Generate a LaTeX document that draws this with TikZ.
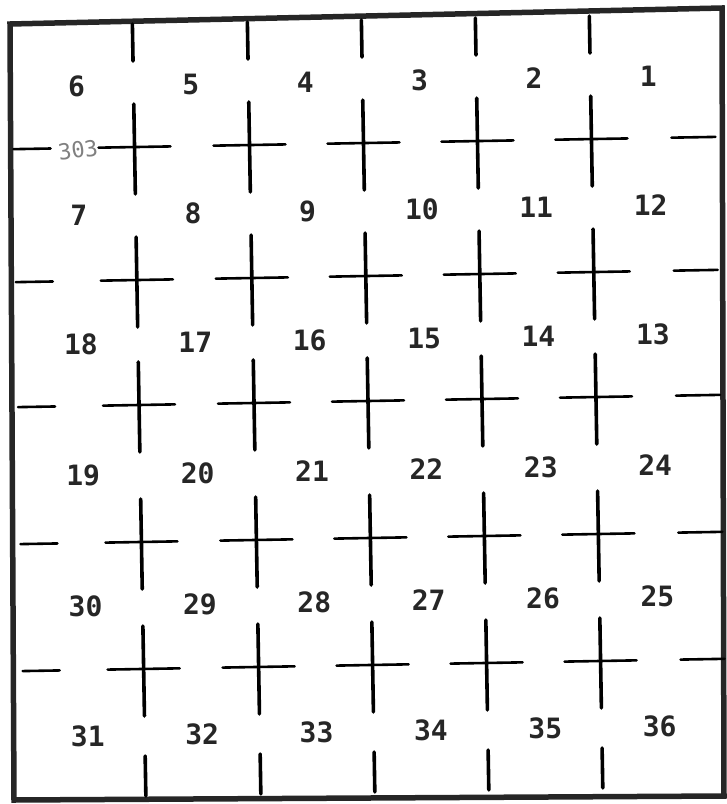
\documentclass[tikz,border=0pt]{standalone}
\usepackage{fontspec}
\newfontfamily\typefont{DejaVu Sans Mono}
\usepackage{tikz}

\tikzset{
    frame line/.style={line width=5.5pt, line join=miter},
    mark line/.style={line width=2.6pt, line cap=round},
    stem line/.style={line width=3.6pt, line cap=round},
    secnum/.style={font=\typefont\bfseries\fontsize{28}{28}\selectfont, text=black!85, inner sep=0pt},
}

\begin{document}
\begin{tikzpicture}[x=1pt, y=-1pt]
    \useasboundingbox (0,0) rectangle (727,804);

    % Outer frame
    \draw[frame line, black!85] (10,24) -- (722,8) -- (724,796) -- (14,800) -- cycle;

    \begin{scope}[shift={(368,401)}, rotate=1]
    % Crosses
    \foreach \u in {-229,-114,0,114,228}
        \foreach \v in {-258,-125,0,137,264} {
            \draw[mark line] (\u-36,\v) -- (\u+36,\v);
            \draw[stem line] (\u,\v-43) -- (\u,\v+47);
        }

    % Half ticks on the frame
    \foreach \u in {-229,-114,0,114,228} {
        \draw[stem line] (\u,-381) -- (\u,-344);
        \draw[stem line] (\u,351) -- (\u,391);
    }
    \foreach \v in {-258,-125,0,137,264} {
        \draw[mark line] (-350,\v) -- (-313,\v);
        \draw[mark line] (308,\v) -- (352,\v);
    }

    % Section numbers
    \foreach \v [count=\r from 0] in {-320,-191,-62,69,200,330}
        \foreach \c in {0,...,5} {
            \pgfmathtruncatemacro\num{mod(\r,2)==0 ? 6*\r+6-\c : 6*\r+1+\c}
            \node[secnum] (s\num) at (-286+114.4*\c,\v) {\num};
        }
    \end{scope}

    % Pencil note
    \node[font=\typefont\fontsize{22}{22}\selectfont, text=gray, inner sep=0pt, rotate=8] (note) at (78,150) {303};
\end{tikzpicture}
\end{document}
